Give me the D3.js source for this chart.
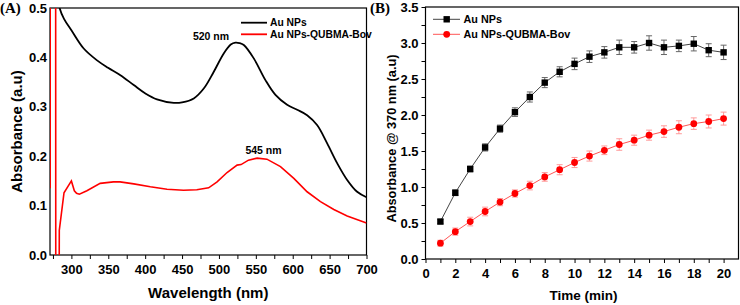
<!DOCTYPE html>
<html><head><meta charset="utf-8">
<script src="https://cdn.jsdelivr.net/npm/d3@7"></script>
<style>
body{margin:0;background:#fff;}
svg{display:block;font-family:"Liberation Sans",Arial,sans-serif;}
</style></head><body>
<div id="chart"></div>
<script>
// ---- Panel A data (UV-Vis spectra) ----
const wlAuNPs = [280,284,290,300,316.7,334.8,349.7,366.4,384.5,400.3,416,438.8,450,465.9,479.4,493,506.5,516,522.4,528,533.7,547.2,563,576.6,592.4,606,619.5,633,646.7,660.2,673.8,687.3,700];
const absAuNPs = [0.54,0.5,0.478,0.455,0.418,0.394,0.379,0.364,0.344,0.327,0.315,0.308,0.309,0.317,0.337,0.371,0.408,0.426,0.430,0.429,0.425,0.398,0.354,0.324,0.304,0.294,0.283,0.263,0.226,0.186,0.152,0.128,0.117];
const wlConj = [271.2,271.4,278.6,278.9,283,283.6,290,300,304,307,310.8,321,339,357,366,384.5,407,429.6,452,470,486,497.5,511,524.6,530,540,551.7,565,583.4,601.5,619.5,637.6,655.7,673.8,700];
const absConj = [0.135,0.8,0.8,-0.3,-0.3,0.05,0.126,0.150,0.130,0.125,0.123,0.130,0.145,0.148,0.148,0.144,0.138,0.133,0.131,0.132,0.136,0.148,0.167,0.182,0.183,0.192,0.196,0.194,0.179,0.155,0.128,0.108,0.092,0.079,0.065];
const xTicksA = [300,350,400,450,500,550,600,650,700];
const yTicksA = [0.0,0.1,0.2,0.3,0.4,0.5];

// ---- Panel B data (kinetics) ----
const time = [1,2,3,4,5,6,7,8,9,10,11,12,13,14,15,16,17,18,19,20];
const kinAuNPs = [0.52,0.92,1.25,1.55,1.81,2.04,2.25,2.45,2.60,2.71,2.81,2.87,2.94,2.94,3.00,2.94,2.96,2.99,2.90,2.87];
const errAuNPs = [0.03,0.04,0.04,0.05,0.05,0.06,0.07,0.07,0.07,0.08,0.08,0.08,0.10,0.08,0.10,0.10,0.08,0.10,0.09,0.10];
const kinConj = [0.22,0.38,0.52,0.66,0.79,0.91,1.02,1.14,1.24,1.34,1.43,1.51,1.59,1.65,1.72,1.77,1.83,1.88,1.91,1.95];
const errConj = [0.04,0.05,0.06,0.06,0.05,0.05,0.06,0.06,0.07,0.07,0.07,0.06,0.08,0.07,0.07,0.08,0.09,0.08,0.09,0.09];
const xTicksB = [0,2,4,6,8,10,12,14,16,18,20];
const yTicksB = [0.0,0.5,1.0,1.5,2.0,2.5,3.0,3.5];
const seriesNames = ["Au NPs","Au NPs-QUBMA-Bov"];

const W = 740, H = 305;
const svg = d3.select("#chart").append("svg").attr("width", W).attr("height", H);
const fmt1 = d3.format(".1f");

// ================= Panel A =================
const A = {l:50, r:366.5, t:8, b:255};
const xA = d3.scaleLinear().domain([271,700]).range([A.l, A.r]);
const yA = d3.scaleLinear().domain([0,0.5]).range([A.b, A.t]);
const gA = svg.append("g");
svg.append("defs").append("clipPath").attr("id","clipA")
  .append("rect").attr("x",A.l).attr("y",A.t).attr("width",A.r-A.l).attr("height",A.b-A.t);

const axA = d3.axisBottom(xA).tickValues(d3.range(275,701,25)).tickSize(4)
  .tickFormat(d => xTicksA.includes(d) ? d : "");
const gxA = gA.append("g").attr("transform",`translate(0,${A.b})`).call(axA);
gxA.selectAll("text").attr("font-size",13).attr("font-weight","bold").attr("dy","0.95em").attr("fill","#000");
gxA.selectAll("line").attr("stroke","#000");
gxA.select(".domain").remove();
const ayA = d3.axisLeft(yA).tickValues(yTicksA).tickSize(0).tickPadding(3).tickFormat(fmt1);
const gyA = gA.append("g").attr("transform",`translate(${A.l},0)`).call(ayA);
gyA.selectAll("text").attr("font-size",13).attr("font-weight","bold").attr("fill","#000");
gyA.select(".domain").remove();
gA.append("rect").attr("x",A.l).attr("y",A.t).attr("width",A.r-A.l).attr("height",A.b-A.t)
  .attr("fill","none").attr("stroke","#000").attr("stroke-width",1.2);

const lineA = (xs, ys, curve) => d3.line().x((d,i)=>xA(xs[i])).y((d,i)=>yA(ys[i])).curve(curve)(xs);
gA.append("path").attr("clip-path","url(#clipA)").attr("d", lineA(wlAuNPs, absAuNPs, d3.curveCatmullRom))
  .attr("fill","none").attr("stroke","#000").attr("stroke-width",1.8);
gA.append("path").attr("clip-path","url(#clipA)").attr("d", lineA(wlConj, absConj, d3.curveLinear))
  .attr("fill","none").attr("stroke","#ff0000").attr("stroke-width",1.6);

[["#000",22.7],["#ff0000",34.3]].forEach((c,i)=>{
  gA.append("line").attr("x1",241).attr("x2",267).attr("y1",c[1]).attr("y2",c[1]).attr("stroke",c[0]).attr("stroke-width",1.8);
  gA.append("text").attr("x",270).attr("y",c[1]).attr("dy","0.35em").attr("font-size",10.3).attr("font-weight","bold").text(seriesNames[i]);
});
gA.append("text").attr("x",211).attr("y",36.7).attr("dy","0.35em").attr("text-anchor","middle").attr("font-size",10.5).attr("font-weight","bold").text("520 nm");
gA.append("text").attr("x",263.5).attr("y",150).attr("dy","0.35em").attr("text-anchor","middle").attr("font-size",10.5).attr("font-weight","bold").text("545 nm");
gA.append("text").attr("x",(A.l+A.r)/2).attr("y",293).attr("dy","0.35em").attr("text-anchor","middle").attr("font-size",15).attr("font-weight","bold").text("Wavelength (nm)");
gA.append("text").attr("transform",`translate(16.5,${(A.t+A.b)/2}) rotate(-90)`).attr("dy","0.35em").attr("text-anchor","middle").attr("font-size",15).attr("font-weight","bold").text("Absorbance (a.u)");
svg.append("text").attr("x",0).attr("y",8).attr("dy","0.35em").attr("font-family","'Liberation Serif','Times New Roman',serif").attr("font-size",15).attr("font-weight","bold").text("(A)");

// ================= Panel B =================
const B = {l:425.5, r:738.5, t:7, b:259};
const xB = d3.scaleLinear().domain([0,21]).range([B.l, B.r]);
const yB = d3.scaleLinear().domain([0,3.5]).range([B.b, B.t]);
const gB = svg.append("g");
const axB = d3.axisBottom(xB).tickValues(d3.range(0,21,1)).tickSize(4)
  .tickFormat(d => xTicksB.includes(d) ? d : "");
const gxB = gB.append("g").attr("transform",`translate(0,${B.b})`).call(axB);
gxB.selectAll("text").attr("font-size",13).attr("font-weight","bold").attr("dy","0.95em").attr("fill","#000");
gxB.select(".domain").remove();
const ayB = d3.axisLeft(yB).tickValues(d3.range(0,3.51,0.25)).tickSize(4)
  .tickFormat(d => yTicksB.some(v=>Math.abs(v-d)<1e-9) ? fmt1(d) : "");
const gyB = gB.append("g").attr("transform",`translate(${B.l},0)`).call(ayB);
gyB.selectAll("text").attr("font-size",13).attr("font-weight","bold").attr("fill","#000");
gyB.select(".domain").remove();
gB.append("rect").attr("x",B.l).attr("y",B.t).attr("width",B.r-B.l).attr("height",B.b-B.t)
  .attr("fill","none").attr("stroke","#000").attr("stroke-width",1.2);

function drawSeries(vals, errs, lineCol, errCol, marker, fill){
  const ln = d3.line().x((d,i)=>xB(time[i])).y(d=>yB(d));
  gB.append("path").attr("d", ln(vals)).attr("fill","none").attr("stroke",lineCol).attr("stroke-width",1);
  const eg = gB.append("g").attr("stroke",errCol).attr("stroke-width",1);
  vals.forEach((v,i)=>{
    const x = xB(time[i]), y1 = yB(v+errs[i]), y2 = yB(v-errs[i]);
    eg.append("line").attr("x1",x).attr("x2",x).attr("y1",y1).attr("y2",y2);
    eg.append("line").attr("x1",x-3).attr("x2",x+3).attr("y1",y1).attr("y2",y1);
    eg.append("line").attr("x1",x-3).attr("x2",x+3).attr("y1",y2).attr("y2",y2);
  });
  const mg = gB.append("g").attr("fill",fill);
  vals.forEach((v,i)=>{
    if(marker==="square") mg.append("rect").attr("x",xB(time[i])-3.2).attr("y",yB(v)-3.2).attr("width",6.4).attr("height",6.4);
    else mg.append("circle").attr("cx",xB(time[i])).attr("cy",yB(v)).attr("r",3.4);
  });
}
drawSeries(kinAuNPs, errAuNPs, "#444", "#666", "square", "#000");
drawSeries(kinConj, errConj, "#ff5555", "#ff9a9a", "circle", "#ff0000");

[[19.3,"#444","#000","square"],[34.3,"#ff5555","#ff0000","circle"]].forEach((c,i)=>{
  gB.append("line").attr("x1",433).attr("x2",460).attr("y1",c[0]).attr("y2",c[0]).attr("stroke",c[1]).attr("stroke-width",1);
  if(c[3]==="square") gB.append("rect").attr("x",446.7-3.2).attr("y",c[0]-3.2).attr("width",6.4).attr("height",6.4).attr("fill",c[2]);
  else gB.append("circle").attr("cx",446.7).attr("cy",c[0]).attr("r",3.4).attr("fill",c[2]);
  gB.append("text").attr("x",463.5).attr("y",c[0]).attr("dy","0.35em").attr("font-size",10.8).attr("font-weight","bold").text(seriesNames[i]);
});
gB.append("text").attr("x",583.5).attr("y",295).attr("dy","0.35em").attr("text-anchor","middle").attr("font-size",13.5).attr("font-weight","bold").text("Time (min)");
gB.append("text").attr("transform",`translate(391.5,${138.5}) rotate(-90)`).attr("dy","0.35em").attr("text-anchor","middle").attr("font-size",12.8).attr("font-weight","bold").text("Absorbance @ 370 nm (a.u)");
svg.append("text").attr("x",370).attr("y",8).attr("dy","0.35em").attr("font-family","'Liberation Serif','Times New Roman',serif").attr("font-size",15).attr("font-weight","bold").text("(B)");
</script>
</body></html>
